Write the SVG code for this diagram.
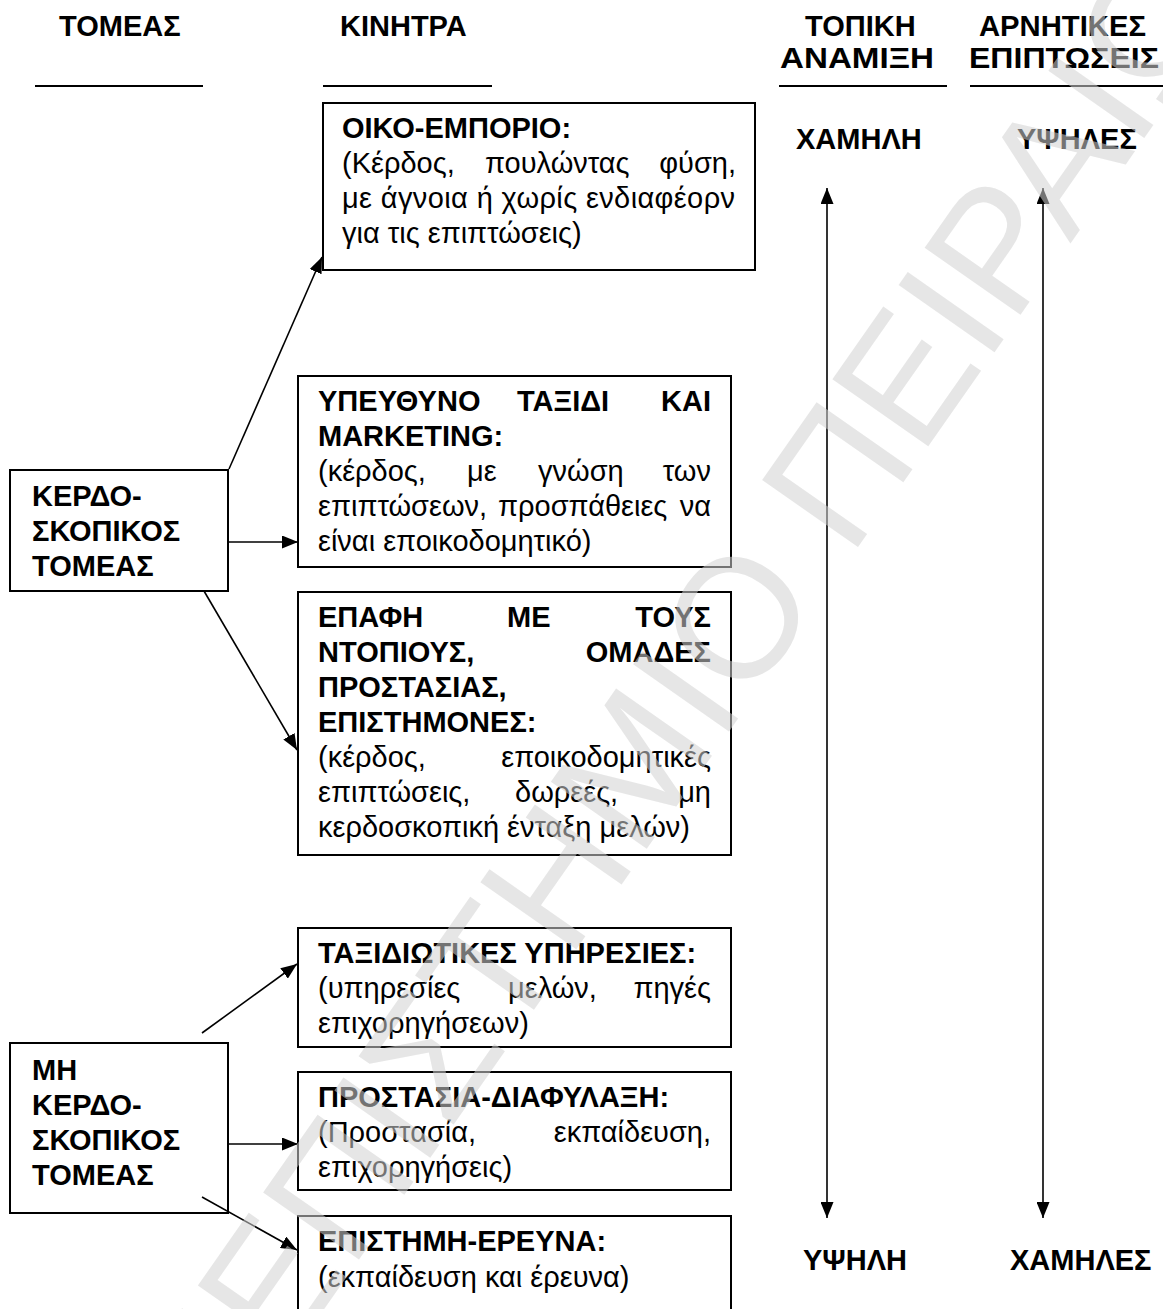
<svg xmlns="http://www.w3.org/2000/svg" width="1163" height="1309" viewBox="0 0 1163 1309">
<defs>
<style>
text{font-family:"Liberation Sans",Arial,"DejaVu Sans",sans-serif;font-size:29px;fill:#000}
.b{font-weight:bold}
.box{fill:none;stroke:#000;stroke-width:2}
.rule{stroke:#000;stroke-width:2}
.con{stroke:#000;stroke-width:1.6;fill:none}
.wm{font-size:170px;fill:#d2d2d2;fill-opacity:0.55}
</style>
<marker id="ah" viewBox="0 0 16 13" refX="16" refY="6.5" markerWidth="16" markerHeight="13" markerUnits="userSpaceOnUse" orient="auto-start-reverse">
<path d="M0,0 L16,6.5 L0,13 Z" fill="#000"/>
</marker>
</defs>
<rect width="1163" height="1309" fill="#fff"/>

<g id="headers">
<text class="b" x="59" y="36">ΤΟΜΕΑΣ</text>
<text class="b" x="340" y="36">ΚΙΝΗΤΡΑ</text>
<text class="b" x="805" y="36">ΤΟΠΙΚΗ</text>
<text class="b" x="780" y="68" textLength="154" lengthAdjust="spacingAndGlyphs">ΑΝΑΜΙΞΗ</text>
<text class="b" x="979" y="36" textLength="167" lengthAdjust="spacingAndGlyphs">ΑΡΝΗΤΙΚΕΣ</text>
<text class="b" x="969" y="68" textLength="190" lengthAdjust="spacingAndGlyphs">ΕΠΙΠΤΩΣΕΙΣ</text>
<line class="rule" x1="35" y1="86" x2="203" y2="86"/>
<line class="rule" x1="323" y1="86" x2="492" y2="86"/>
<line class="rule" x1="779" y1="86" x2="947" y2="86"/>
<line class="rule" x1="970" y1="86" x2="1163" y2="86"/>
</g>

<g id="scale-labels">
<text class="b" x="796" y="149">ΧΑΜΗΛΗ</text>
<text class="b" x="1017" y="149">ΥΨΗΛΕΣ</text>
<text class="b" x="803" y="1270">ΥΨΗΛΗ</text>
<text class="b" x="1010" y="1270">ΧΑΜΗΛΕΣ</text>
</g>

<g id="node-profit">
<rect class="box" x="10" y="470" width="218" height="121"/>
<text class="b" x="32" y="506">ΚΕΡΔΟ-</text>
<text class="b" x="32" y="541">ΣΚΟΠΙΚΟΣ</text>
<text class="b" x="32" y="576">ΤΟΜΕΑΣ</text>
</g>

<g id="node-nonprofit">
<rect class="box" x="10" y="1043" width="218" height="170"/>
<text class="b" x="32" y="1080">ΜΗ</text>
<text class="b" x="32" y="1115">ΚΕΡΔΟ-</text>
<text class="b" x="32" y="1150">ΣΚΟΠΙΚΟΣ</text>
<text class="b" x="32" y="1185">ΤΟΜΕΑΣ</text>
</g>

<g id="node-ecotrade">
<rect class="box" x="323" y="103" width="432" height="167"/>
<text class="b" x="342" y="138">ΟΙΚΟ-ΕΜΠΟΡΙΟ:</text>
<text y="173"><tspan x="342">(Κέρδος,</tspan><tspan x="485">πουλώντας</tspan><tspan x="736" text-anchor="end">φύση,</tspan></text>
<text x="342" y="208" textLength="393" lengthAdjust="spacing">με άγνοια ή χωρίς ενδιαφέορν</text>
<text x="342" y="243">για τις επιπτώσεις)</text>
</g>

<g id="node-responsible">
<rect class="box" x="298" y="376" width="433" height="191"/>
<text class="b" y="411"><tspan x="318">ΥΠΕΥΘΥΝΟ</tspan><tspan x="517">ΤΑΞΙΔΙ</tspan><tspan x="711" text-anchor="end">ΚΑΙ</tspan></text>
<text class="b" x="318" y="446">MARKETING:</text>
<text y="481"><tspan x="318">(κέρδος,</tspan><tspan x="467">με</tspan><tspan x="538">γνώση</tspan><tspan x="711" text-anchor="end">των</tspan></text>
<text y="516"><tspan x="318">επιπτώσεων,</tspan><tspan x="498">προσπάθειες</tspan><tspan x="711" text-anchor="end">να</tspan></text>
<text x="318" y="551">είναι εποικοδομητικό)</text>
</g>

<g id="node-contact">
<rect class="box" x="298" y="592" width="433" height="263"/>
<text class="b" y="627"><tspan x="318">ΕΠΑΦΗ</tspan><tspan x="507">ΜΕ</tspan><tspan x="711" text-anchor="end">ΤΟΥΣ</tspan></text>
<text class="b" y="662"><tspan x="318">ΝΤΟΠΙΟΥΣ,</tspan><tspan x="711" text-anchor="end">ΟΜΑΔΕΣ</tspan></text>
<text class="b" x="318" y="697">ΠΡΟΣΤΑΣΙΑΣ,</text>
<text class="b" x="318" y="732">ΕΠΙΣΤΗΜΟΝΕΣ:</text>
<text y="767"><tspan x="318">(κέρδος,</tspan><tspan x="711" text-anchor="end">εποικοδομητικές</tspan></text>
<text y="802"><tspan x="318">επιπτώσεις,</tspan><tspan x="515">δωρεές,</tspan><tspan x="711" text-anchor="end">μη</tspan></text>
<text x="318" y="837">κερδοσκοπική ένταξη μελών)</text>
</g>

<g id="node-travel">
<rect class="box" x="298" y="928" width="433" height="119"/>
<text class="b" x="318" y="963">ΤΑΞΙΔΙΩΤΙΚΕΣ ΥΠΗΡΕΣΙΕΣ:</text>
<text y="998"><tspan x="318">(υπηρεσίες</tspan><tspan x="508">μελών,</tspan><tspan x="711" text-anchor="end">πηγές</tspan></text>
<text x="318" y="1033">επιχορηγήσεων)</text>
</g>

<g id="node-protection">
<rect class="box" x="298" y="1072" width="433" height="118"/>
<text class="b" x="318" y="1107">ΠΡΟΣΤΑΣΙΑ-ΔΙΑΦΥΛΑΞΗ:</text>
<text y="1142"><tspan x="318">(Προστασία,</tspan><tspan x="711" text-anchor="end">εκπαίδευση,</tspan></text>
<text x="318" y="1177">επιχορηγήσεις)</text>
</g>

<g id="node-science">
<rect class="box" x="298" y="1216" width="433" height="110"/>
<text class="b" x="318" y="1251">ΕΠΙΣΤΗΜΗ-ΕΡΕΥΝΑ:</text>
<text x="318" y="1287">(εκπαίδευση και έρευνα)</text>
</g>

<g id="connectors">
<line class="con" x1="229" y1="469" x2="322" y2="257" marker-end="url(#ah)"/>
<line class="con" x1="228" y1="542" x2="298" y2="542" marker-end="url(#ah)"/>
<line class="con" x1="204" y1="591" x2="297" y2="750" marker-end="url(#ah)"/>
<line class="con" x1="202" y1="1033" x2="297" y2="964" marker-end="url(#ah)"/>
<line class="con" x1="228" y1="1144" x2="298" y2="1144" marker-end="url(#ah)"/>
<line class="con" x1="202" y1="1197" x2="297" y2="1250" marker-end="url(#ah)"/>
<line class="con" x1="827" y1="188" x2="827" y2="1218" marker-start="url(#ah)" marker-end="url(#ah)"/>
<line class="con" x1="1043" y1="188" x2="1043" y2="1218" marker-start="url(#ah)" marker-end="url(#ah)"/>
</g>

<g id="watermark">
<text class="wm" x="80" y="1658" transform="rotate(-55 80 1658)">ΠΑΝΕΠΙΣΤΗΜΙΟ ΠΕΙΡΑΙΩΣ</text>
</g>
</svg>
